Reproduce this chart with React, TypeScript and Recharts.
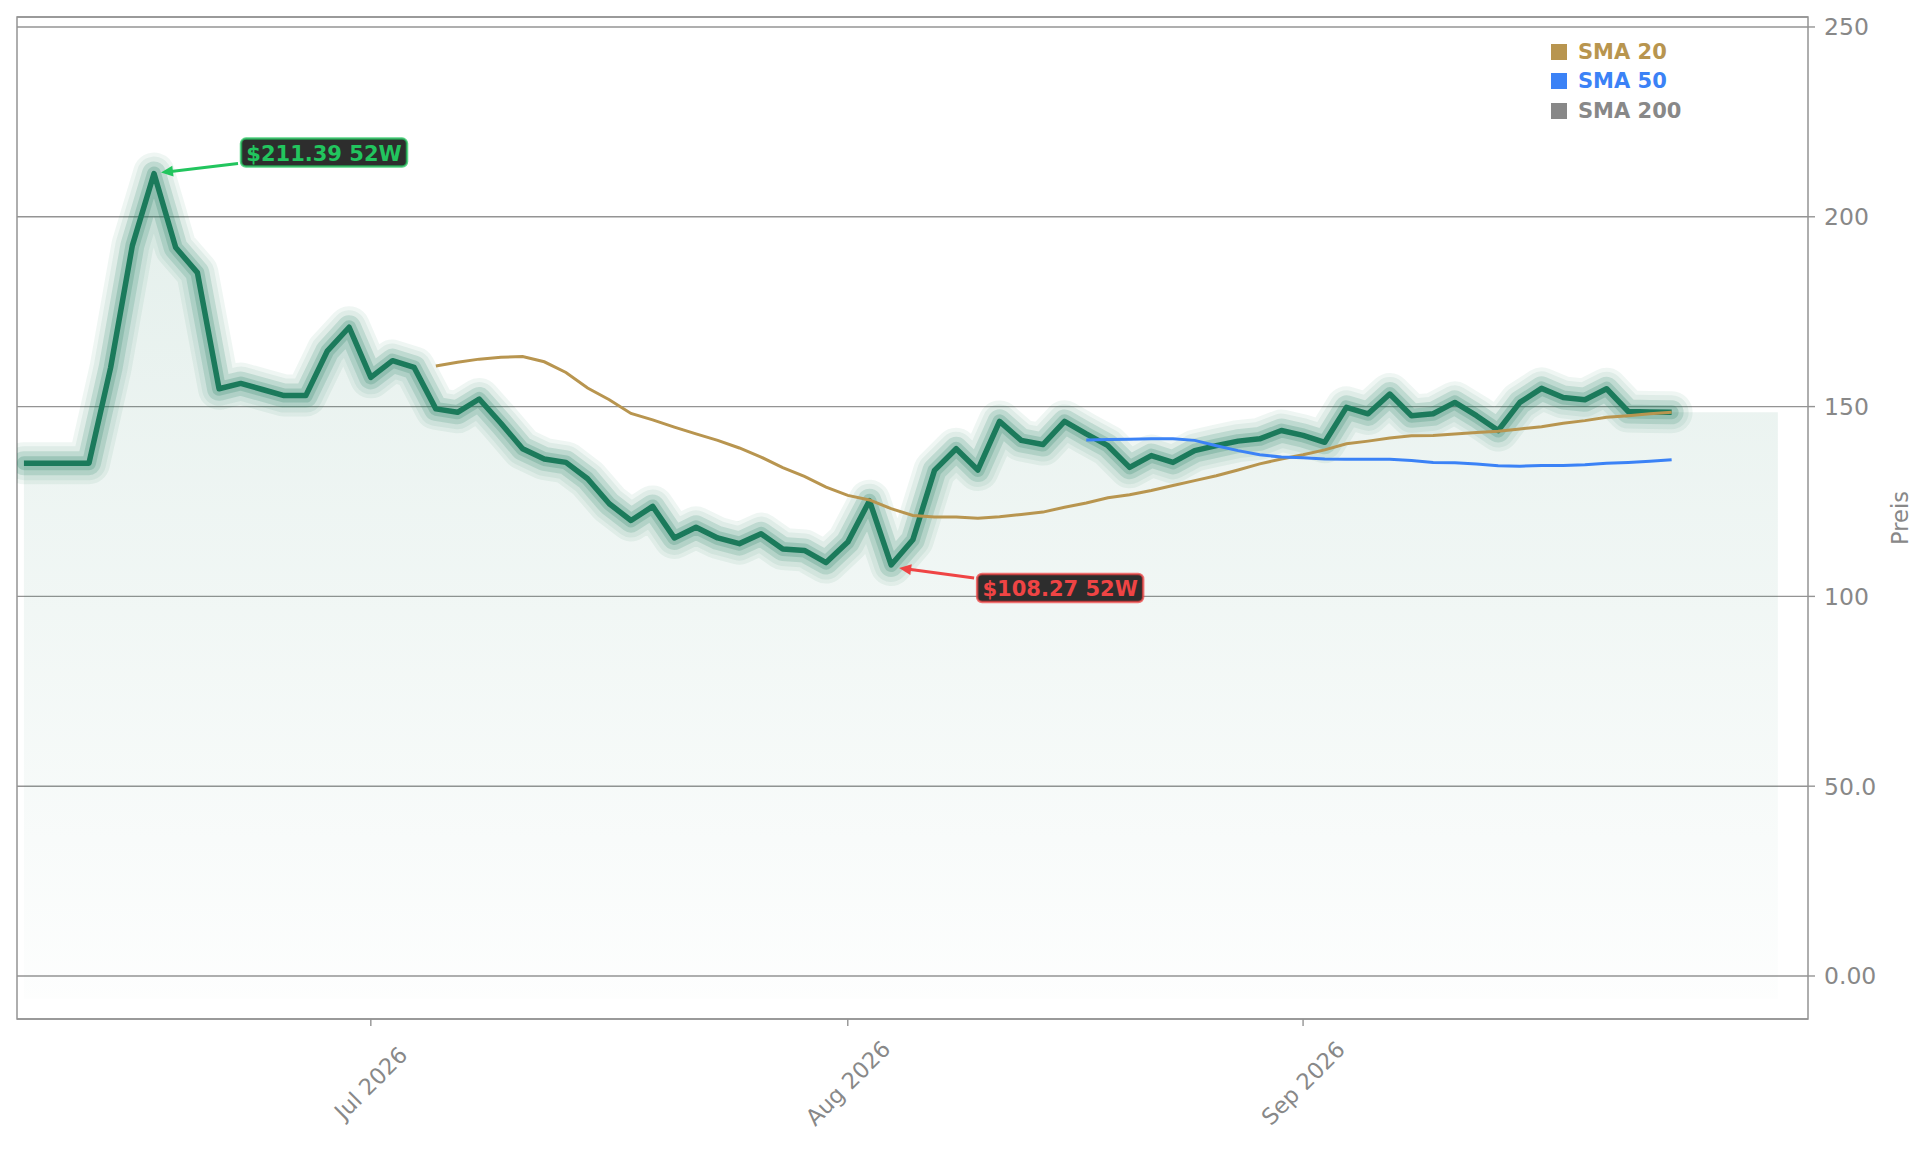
import { ComposedChart, Area, Line, XAxis, YAxis, CartesianGrid, ReferenceDot, ReferenceArea } from 'recharts';

// closing prices, one per trading day
const priceValues = [
    135.1, 135.1, 135.1, 135.1, 160.3, 192.4, 211.39, 191.9, 185.3, 154.7,
    156.1, 154.5, 152.9, 152.9, 164.7, 170.9, 157.7, 162.1, 160.3, 149.4,
    148.5, 152.0, 145.6, 138.9, 136.2, 135.3, 131.0, 124.4, 120.0, 123.7,
    115.4, 118.2, 115.4, 113.9, 116.5, 112.5, 112.1, 108.9, 114.3, 125.2,
    108.27, 114.9, 133.2, 138.9, 133.3, 146.1, 141.1, 140.0, 146.1, 142.8,
    139.7, 134.0, 137.1, 135.3, 138.4, 139.7, 140.9, 141.5, 143.7, 142.4,
    140.6, 149.8, 148.1, 153.3, 147.6, 148.1, 151.1, 147.6, 143.7, 151.1,
    154.8, 152.4, 151.8, 154.7, 148.7, 148.6, 148.5,
];

const sma20Start = 19;
const sma20Values = [
    160.7, 161.7, 162.5, 163.0, 163.2, 161.8, 159.0, 154.9, 151.8, 148.2,
    146.5, 144.6, 142.8, 141.1, 139.1, 136.7, 133.9, 131.6, 128.8, 126.6,
    125.4, 123.1, 121.3, 120.9, 120.9, 120.6, 121.0, 121.6, 122.2, 123.5,
    124.6, 126.0, 126.8, 127.9, 129.2, 130.5, 131.8, 133.3, 134.9, 136.2,
    137.3, 138.6, 140.2, 140.9, 141.7, 142.3, 142.4, 142.8, 143.2, 143.5,
    144.1, 144.7, 145.6, 146.3, 147.2, 147.6, 148.1, 148.5,
];

const sma50Start = 49;
const sma50Values = [
    141.2, 141.3, 141.4, 141.5, 141.5, 141.1, 139.7, 138.4, 137.3, 136.7,
    136.5, 136.2, 136.1, 136.1, 136.1, 135.8, 135.3, 135.2, 134.9, 134.4,
    134.3, 134.5, 134.5, 134.7, 135.1, 135.3, 135.6, 136.0,
];

// the shaded fill runs on past the last close
const fillEndX = 80.9;

const xTicks = [16, 38, 59];
const xTickLabels = ['Jul 2026', 'Aug 2026', 'Sep 2026'];
const xDomain = [-0.32, 82.29];

const yTicks = [0, 50, 100, 150, 200, 250];
const yTickLabels = ['0.00', '50.0', '100', '150', '200', '250'];
const yDomain = [-11.33, 252.63];

const legendNames = ['SMA 20', 'SMA 50', 'SMA 200'];
const legendColors = ['#b8954f', '#3b82f6', '#888888'];

const highIndex = 6;
const lowIndex = 40;

const chartData: any[] = priceValues.map((p, i) => ({
    x: i,
    price: p,
    fill: p,
    sma20: i >= sma20Start ? sma20Values[i - sma20Start] : null,
    sma50: i >= sma50Start ? sma50Values[i - sma50Start] : null,
}));
chartData.push({ x: fillEndX, fill: priceValues[priceValues.length - 1] });

const FONT = 'DejaVu Sans';
const GREEN = '#1b7a5b';
const GRID = '#949494';

function XTick({ x, y, payload }: any) {
    const label = xTickLabels[xTicks.indexOf(payload.value)];
    return (
        <text
            transform={`translate(${x},${y + 55}) rotate(-45)`}
            textAnchor="middle"
            dominantBaseline="central"
            fill="#888"
            fontSize={22.5}
            fontFamily={FONT}
        >
            {label}
        </text>
    );
}

function AxisTitle({ viewBox }: any) {
    const cx = viewBox.x + viewBox.width - 8;
    const cy = viewBox.y + viewBox.height / 2;
    return (
        <text
            x={cx}
            y={cy}
            transform={`rotate(-90 ${cx} ${cy})`}
            textAnchor="middle"
            dominantBaseline="central"
            fill="#888"
            fontSize={22.5}
            fontFamily={FONT}
        >
            Preis
        </text>
    );
}

function Callout({ cx, cy, text, color, boxDx, boxDy, from, to }: any) {
    const sx = cx + from[0];
    const sy = cy + from[1];
    const tx = cx + to[0];
    const ty = cy + to[1];
    const len = Math.hypot(tx - sx, ty - sy);
    const ux = (tx - sx) / len;
    const uy = (ty - sy) / len;
    const head = 12;
    const hw = 5.5;
    const bx = tx - ux * head;
    const by = ty - uy * head;
    const w = 166;
    const h = 28;
    return (
        <g>
            <line x1={sx} y1={sy} x2={bx + ux * 2} y2={by + uy * 2} stroke={color} strokeWidth={3} />
            <polygon
                points={`${tx},${ty} ${bx - uy * hw},${by + ux * hw} ${bx + uy * hw},${by - ux * hw}`}
                fill={color}
            />
            <rect
                x={cx + boxDx}
                y={cy + boxDy}
                width={w}
                height={h}
                rx={5}
                fill="#2d2d2d"
                stroke={color}
                strokeOpacity={0.75}
                strokeWidth={2.5}
            />
            <text
                x={cx + boxDx + w / 2}
                y={cy + boxDy + h / 2 + 1}
                textAnchor="middle"
                dominantBaseline="central"
                fill={color}
                fontSize={21}
                fontWeight="bold"
                fontFamily={FONT}
            >
                {text}
            </text>
        </g>
    );
}

function LegendBox() {
    return (
        <div style={{ position: 'absolute', left: 1551, top: 37, fontFamily: FONT, fontWeight: 'bold', fontSize: 21 }}>
            {legendNames.map((name, i) => (
                <div key={name} style={{ display: 'flex', alignItems: 'center', height: 29.5 }}>
                    <span style={{ width: 16, height: 16, background: legendColors[i], marginRight: 11 }} />
                    <span style={{ color: legendColors[i] }}>{name}</span>
                </div>
            ))}
        </div>
    );
}

// soft halo round the price line, widest ring first
const glowLayers = [
    { width: 42, opacity: 0.07 },
    { width: 34, opacity: 0.075 },
    { width: 24, opacity: 0.16 },
    { width: 14, opacity: 0.2 },
];

export default function App() {
    return (
        <div style={{ position: 'absolute', left: 0, top: 0, width: 1929, height: 1151, background: '#fff' }}>
            <ComposedChart
                width={1929}
                height={1151}
                data={chartData}
                margin={{ top: 17, right: 21, bottom: 32, left: 17 }}
            >
                <defs>
                    <linearGradient id="priceFill" x1="0" y1="0" x2="0" y2="1">
                        <stop offset="0%" stopColor={GREEN} stopOpacity={0.2} />
                        <stop offset="100%" stopColor={GREEN} stopOpacity={0.015} />
                    </linearGradient>
                </defs>
                <CartesianGrid vertical={false} stroke={GRID} strokeWidth={1.4} />
                <XAxis
                    dataKey="x"
                    type="number"
                    domain={xDomain}
                    ticks={xTicks}
                    allowDataOverflow
                    height={100}
                    axisLine={false}
                    tickSize={7}
                    tickMargin={2}
                    tickLine={{ stroke: GRID, strokeWidth: 1.4 }}
                    tick={<XTick />}
                    interval={0}
                />
                <YAxis
                    orientation="right"
                    width={100}
                    domain={yDomain}
                    ticks={yTicks}
                    allowDataOverflow
                    axisLine={false}
                    tickSize={7}
                    tickMargin={9}
                    tickLine={{ stroke: GRID, strokeWidth: 1.4 }}
                    tick={{ fill: '#888', fontSize: 23.5, fontFamily: FONT }}
                    tickFormatter={(v: number) => yTickLabels[yTicks.indexOf(v)]}
                    interval={0}
                    label={{ content: AxisTitle }}
                />
                <Area
                    dataKey="fill"
                    type="linear"
                    stroke="none"
                    fill="url(#priceFill)"
                    baseValue={-6}
                    isAnimationActive={false}
                    dot={false}
                    activeDot={false}
                />
                {glowLayers.map((g, i) => (
                    <Line
                        key={`glow-${i}`}
                        dataKey="price"
                        type="linear"
                        stroke={GREEN}
                        strokeOpacity={g.opacity}
                        strokeWidth={g.width}
                        strokeLinejoin="round"
                        strokeLinecap="round"
                        dot={false}
                        activeDot={false}
                        isAnimationActive={false}
                    />
                ))}
                <Line
                    dataKey="price"
                    type="linear"
                    stroke={GREEN}
                    strokeWidth={5.5}
                    strokeLinejoin="round"
                    dot={false}
                    activeDot={false}
                    isAnimationActive={false}
                />
                <Line
                    dataKey="sma20"
                    type="linear"
                    stroke={legendColors[0]}
                    strokeWidth={3}
                    dot={false}
                    activeDot={false}
                    isAnimationActive={false}
                />
                <Line
                    dataKey="sma50"
                    type="linear"
                    stroke={legendColors[1]}
                    strokeWidth={3}
                    dot={false}
                    activeDot={false}
                    isAnimationActive={false}
                />
                <ReferenceArea
                    x1={xDomain[0]}
                    x2={xDomain[1]}
                    y1={yDomain[0]}
                    y2={yDomain[1]}
                    fill="none"
                    stroke={GRID}
                    strokeWidth={1.5}
                    ifOverflow="visible"
                />
                <ReferenceDot
                    x={highIndex}
                    y={priceValues[highIndex]}
                    ifOverflow="visible"
                    shape={(p: any) => (
                        <Callout
                            cx={p.cx}
                            cy={p.cy}
                            text={`$${priceValues[highIndex].toFixed(2)} 52W`}
                            color="#22c55e"
                            boxDx={87}
                            boxDy={-35}
                            from={[84, -10]}
                            to={[7, -1]}
                        />
                    )}
                />
                <ReferenceDot
                    x={lowIndex}
                    y={priceValues[lowIndex]}
                    ifOverflow="visible"
                    shape={(p: any) => (
                        <Callout
                            cx={p.cx}
                            cy={p.cy}
                            text={`$${priceValues[lowIndex].toFixed(2)} 52W`}
                            color="#ef4444"
                            boxDx={86}
                            boxDy={9}
                            from={[83, 13]}
                            to={[8, 3]}
                        />
                    )}
                />
            </ComposedChart>
            <LegendBox />
        </div>
    );
}
